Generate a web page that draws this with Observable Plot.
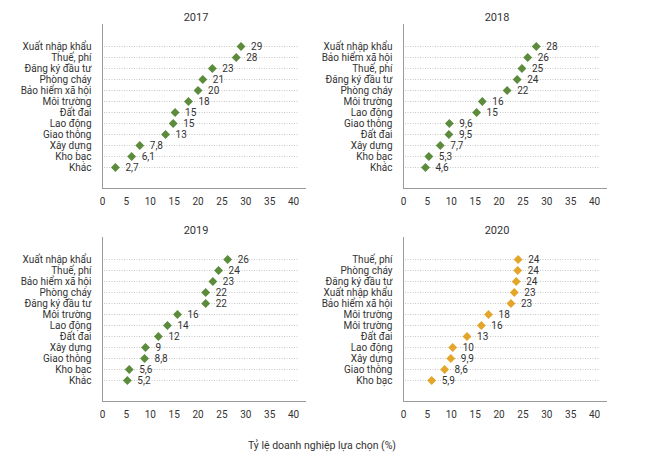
<!DOCTYPE html>
<html><head><meta charset="utf-8">
<script src="https://cdn.jsdelivr.net/npm/d3@7"></script>
<script src="https://cdn.jsdelivr.net/npm/@observablehq/plot@0.6"></script>
<style>
body{margin:0;background:#fff;}
#wrap{position:relative;width:650px;height:461px;overflow:hidden;}
.panel{position:absolute;}
.panel svg{background:transparent !important;}
#xlabel{position:absolute;left:0;width:644px;top:439px;text-align:center;font-size:10.5px;color:#333;}
</style></head><body><div id="wrap"><div id="xlabel"></div></div>
<script>
const FONT = 'Roboto, "Noto Sans", sans-serif';
const xLabel = "Tỷ lệ doanh nghiệp lựa chọn (%)";
const xTicks = [0, 5, 10, 15, 20, 25, 30, 35, 40];

const cats2017 = ["Xuất nhập khẩu","Thuế, phí","Đăng ký đầu tư","Phòng cháy","Bảo hiểm xã hội","Môi trường","Đất đai","Lao động","Giao thông","Xây dựng","Kho bạc","Khác"];
const vals2017 = [29, 28, 23, 21, 20, 18, 15.2, 14.8, 13.2, 7.8, 6.1, 2.7];
const labs2017 = ["29","28","23","21","20","18","15","15","13","7,8","6,1","2,7"];

const cats2018 = ["Xuất nhập khẩu","Bảo hiểm xã hội","Thuế, phí","Đăng ký đầu tư","Phòng cháy","Môi trường","Lao động","Giao thông","Đất đai","Xây dựng","Kho bạc","Khác"];
const vals2018 = [27.8, 26, 24.8, 23.8, 21.7, 16.5, 15.3, 9.6, 9.5, 7.7, 5.3, 4.6];
const labs2018 = ["28","26","25","24","22","16","15","9,6","9,5","7,7","5,3","4,6"];

const cats2019 = ["Xuất nhập khẩu","Thuế, phí","Bảo hiểm xã hội","Phòng cháy","Đăng ký đầu tư","Môi trường","Lao động","Đất đai","Xây dựng","Giao thông","Kho bạc","Khác"];
const vals2019 = [26.2, 24.3, 23.1, 21.6, 21.6, 15.7, 13.6, 11.7, 9, 8.8, 5.6, 5.2];
const labs2019 = ["26","24","23","22","22","16","14","12","9","8,8","5,6","5,2"];

const cats2020 = ["Thuế, phí","Phòng cháy","Đăng ký đầu tư","Xuất nhập khẩu","Bảo hiểm xã hội","Môi trường","Môi trường","Đất đai","Lao động","Xây dựng","Giao thông","Kho bạc"];
const vals2020 = [24, 23.9, 23.6, 23.2, 22.5, 17.8, 16.3, 13.3, 10.3, 9.9, 8.6, 5.9];
const labs2020 = ["24","24","24","23","23","18","16","13","10","9,9","8,6","5,9"];

const green = "#5b8b3b", gold = "#e3a62b";

function panel(year, cats, vals, labs, color, left, top) {
  const data = cats.map((c, i) => ({i, c, v: vals[i], t: labs[i]}));
  const chart = Plot.plot({
    width: 325, height: 215,
    marginLeft: 102, marginRight: 20, marginTop: 24, marginBottom: 27,
    style: {fontFamily: FONT, fontSize: "10px", color: "#333", background: "transparent"},
    x: {domain: [0, 42.5], ticks: xTicks, tickSize: 0, tickPadding: 9, label: null},
    y: {type: "point", domain: data.map(d => d.i), padding: 1.5, tickFormat: i => cats[i], tickSize: 0, tickPadding: 11, label: null},
    marks: [
      Plot.ruleY(data, {y: "i", stroke: "#c8c8c8", strokeDasharray: "1,1.5", insetLeft: 2, insetRight: 6}),
      Plot.frame({anchor: "left", stroke: "#9a9a9a"}),
      Plot.frame({anchor: "bottom", stroke: "#9a9a9a"}),
      Plot.dot(data, {x: "v", y: "i", symbol: "diamond2", fill: color, stroke: "none", r: 4}),
      Plot.text(data, {x: "v", y: "i", text: "t", dx: 10, textAnchor: "start", fill: "#333", fontSize: 10}),
      Plot.text([year], {frameAnchor: "top", dy: -11, dx: -8, fontSize: 11, fill: "#333"})
    ]
  });
  const div = document.createElement("div");
  div.className = "panel";
  div.style.left = left + "px";
  div.style.top = top + "px";
  div.appendChild(chart);
  document.getElementById("wrap").appendChild(div);
}

panel("2017", cats2017, vals2017, labs2017, green, 0, 0);
panel("2018", cats2018, vals2018, labs2018, green, 301, 0);
panel("2019", cats2019, vals2019, labs2019, green, 0, 213);
panel("2020", cats2020, vals2020, labs2020, gold, 301, 213);

const xl = document.getElementById("xlabel");
xl.textContent = xLabel;
xl.style.fontFamily = FONT;
</script></body></html>
